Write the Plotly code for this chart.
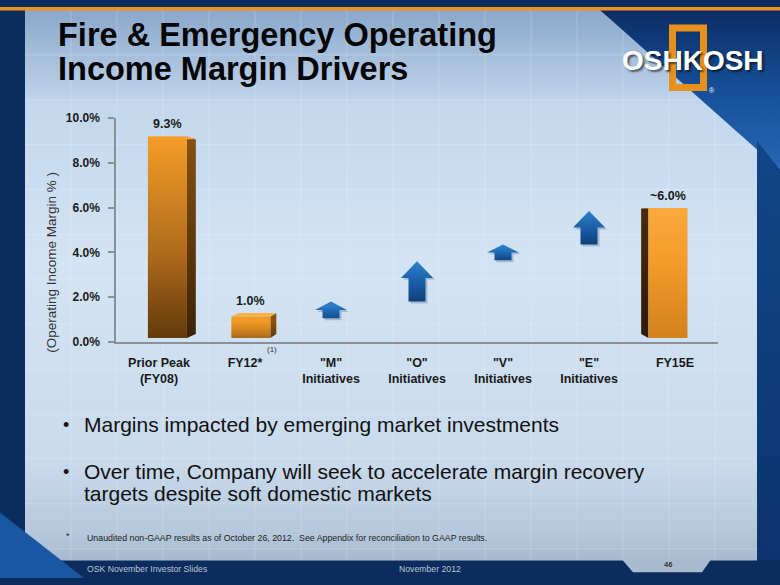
import plotly.graph_objects as go

W, H = 780, 585

# ---------------- data ----------------
categories = ['Prior Peak<br>(FY08)', 'FY12*', '"M"<br>Initiatives', '"O"<br>Initiatives',
              '"V"<br>Initiatives', '"E"<br>Initiatives', 'FY15E']
bar_positions = [0, 1, 6]
bar_values = [9.3, 1.0, 6.0]
bar_labels = ['9.3%', '1.0%', '~6.0%']
arrow_positions = [2, 3, 4, 5]
arrow_start = [1.05, 1.8, 3.65, 4.35]
arrow_end = [1.8, 3.6, 4.35, 5.85]
y_tickvals = [0, 2, 4, 6, 8, 10]
y_ticktext = ['0.0%', '2.0%', '4.0%', '6.0%', '8.0%', '10.0%']

title_lines = ['Fire & Emergency Operating', 'Income Margin Drivers']
bullets = ['Margins impacted by emerging market investments',
           'Over time, Company will seek to accelerate margin recovery',
           'targets despite soft domestic markets']
footnote = 'Unaudited non-GAAP results as of October 26, 2012.  See Appendix for reconciliation to GAAP results.'
footer_left = 'OSK November Investor Slides'
footer_mid = 'November 2012'
page_no = '46'

# ---------------- styles ----------------
FONT = 'Liberation Sans, Arial, Helvetica, sans-serif'
AX = '#8a9098'
PX_L, PX_R, PY_B, PY_T = 116, 718, 343, 114   # plot area in pixels
CAT_PX = (PX_R - PX_L) / 7.0
VAL_PX = (PY_B - PY_T) / 10.0

bar_front_scales = [
    [[0, '#5e360b'], [0.45, '#b06c1c'], [1, '#f49d27']],
    [[0, '#8a5214'], [0.5, '#c77d1f'], [1, '#f29a25']],
    [[0, '#cf7f1e'], [0.6, '#f29b29'], [1, '#f9a93b']],
]
bar_side_scales = [
    [[0, '#3a2106'], [1, '#87500f']],
    [[0, '#4f2e08'], [1, '#8a5212']],
    [[0, '#2e1a05'], [1, '#4a2b09']],
]
bar_top_color = '#f6b04c'
arrow_scale = [[0, '#0c3a72'], [0.55, '#195ca5'], [1, '#2b7cc6']]

VX, VY = 3.27, 5.5       # perspective centre (category index, value)
S_FRONT = 0.97
DEPTH = 0.035
HALF_W = 0.227
ARROW_HEAD_HW = 16.0 / CAT_PX
ARROW_SHAFT_HW = 8.5 / CAT_PX
ARROW_HEAD_MAX = 17.0 / VAL_PX


def px(x):
    return x / W


def py(y):
    return 1 - y / H


fig = go.Figure()


def bg_poly(pts, color=None, grad=None):
    xs = [p[0] for p in pts] + [pts[0][0]]
    ys = [p[1] for p in pts] + [pts[0][1]]
    kw = dict(x=xs, y=ys, mode='lines', fill='toself', line=dict(width=0),
              hoverinfo='skip', showlegend=False, xaxis='x', yaxis='y')
    if grad is not None:
        kw['fillgradient'] = grad
    else:
        kw['fillcolor'] = color
    fig.add_trace(go.Scatter(**kw))


# ---------------- slide background ----------------
bg_poly([(25, 3), (600, 3), (757, 137), (757, 567), (25, 567)],
        grad=dict(type='vertical', start=3, stop=567,
                  colorscale=[[0, '#8aa7ca'], [0.17, '#c3d7ed'], [0.45, '#d3e4f4'],
                              [0.8, '#c8daec'], [0.93, '#b5c7da'], [1, '#9fb2c8']]))
gx, gy = [], []
x = 25 + 46
while x < 757:
    gx += [x, x, None]
    gy += [3, 567, None]
    x += 46
y = 3 + 46
while y < 567:
    gx += [25, 757, None]
    gy += [y, y, None]
    y += 46
fig.add_trace(go.Scatter(x=gx, y=gy, mode='lines', line=dict(color='rgba(255,255,255,0.2)', width=1),
                         hoverinfo='skip', showlegend=False, xaxis='x', yaxis='y'))
bg_poly([(600, 3), (780, 3), (780, 167)],
        grad=dict(type='vertical', start=3, stop=167,
                  colorscale=[[0, '#0b2e63'], [0.5, '#17509a'], [1, '#2868b4']]))
bg_poly([(757, 137), (780, 167), (780, 567), (757, 567)],
        grad=dict(type='vertical', start=137, stop=567,
                  colorscale=[[0, '#114688'], [1, '#0c336b']]))
bg_poly([(0, 518), (84, 585), (0, 585)], color='#1a57a2')
bg_poly([(622, 566), (633, 579), (702, 579), (711, 566)], color='#a9bbcf')
bg_poly([(0, 0), (780, 0), (780, 3.5), (0, 3.5)], color='#e9931c')

# ---------------- chart: 3D bars ----------------


def back(p):
    return (p[0] + DEPTH * (VX - p[0]), p[1] + DEPTH * (VY - p[1]))


def chart_poly(pts, scale=None, color=None, start=None, stop=None):
    xs = [p[0] for p in pts] + [pts[0][0]]
    ys = [p[1] for p in pts] + [pts[0][1]]
    kw = dict(x=xs, y=ys, mode='lines', fill='toself', line=dict(width=0),
              hoverinfo='skip', showlegend=False, xaxis='x2', yaxis='y2')
    if scale is not None:
        kw['fillgradient'] = dict(type='vertical', start=start, stop=stop, colorscale=scale)
    else:
        kw['fillcolor'] = color
    fig.add_trace(go.Scatter(**kw))


label_anns = []
for k, (i, v) in enumerate(zip(bar_positions, bar_values)):
    cx = VX + (i - VX) * S_FRONT
    yb = VY + (0 - VY) * S_FRONT
    yt = VY + (v - VY) * S_FRONT
    xl, xr = cx - HALF_W, cx + HALF_W
    xe = xr if i < VX else xl
    side = [(xe, yb), (xe, yt), back((xe, yt)), back((xe, yb))]
    chart_poly(side, scale=bar_side_scales[k], start=yb, stop=yt)
    top = [(xl, yt), (xr, yt), back((xr, yt)), back((xl, yt))]
    chart_poly(top, color=bar_top_color)
    front = [(xl, yb), (xr, yb), (xr, yt), (xl, yt)]
    chart_poly(front, scale=bar_front_scales[k], start=yb, stop=yt)
    label_y = max(yt, back((xl, yt))[1])
    label_anns.append(dict(x=cx, y=label_y, xref='x2', yref='y2', text=bar_labels[k],
                           showarrow=False, xanchor='center', yanchor='bottom', yshift=3,
                           font=dict(size=12.5, color='#1a1a1a', family=FONT, weight='bold')))

# ---------------- chart: arrows ----------------
sdx, sdy = 2.0 / CAT_PX, -2.0 / VAL_PX
for i, a0, a1 in zip(arrow_positions, arrow_start, arrow_end):
    head = min(0.5 * (a1 - a0), ARROW_HEAD_MAX)
    hb = a1 - head
    pts = [(i - ARROW_SHAFT_HW, a0), (i + ARROW_SHAFT_HW, a0), (i + ARROW_SHAFT_HW, hb),
           (i + ARROW_HEAD_HW, hb), (i, a1), (i - ARROW_HEAD_HW, hb), (i - ARROW_SHAFT_HW, hb)]
    shadow = [(p[0] + sdx, p[1] + sdy) for p in pts]
    chart_poly(shadow, color='rgba(70,90,120,0.30)')
    chart_poly(pts, scale=arrow_scale, start=a0, stop=a1)

# ---------------- axes ----------------
fig.update_layout(
    width=W, height=H, margin=dict(l=0, r=0, t=0, b=0),
    paper_bgcolor='#0b2c5c', plot_bgcolor='rgba(0,0,0,0)', showlegend=False,
    font=dict(family=FONT, color='#1a1a1a'),
    xaxis=dict(domain=[0, 1], range=[0, W], visible=False, fixedrange=True),
    yaxis=dict(domain=[0, 1], range=[H, 0], visible=False, fixedrange=True),
    xaxis2=dict(domain=[PX_L / W, PX_R / W], anchor='y2', range=[-0.5, 6.5],
                tickmode='array', tickvals=list(range(7)), ticktext=categories,
                showline=True, linecolor=AX, linewidth=1.5, showgrid=False, zeroline=False,
                ticks='', ticklabelstandoff=8, fixedrange=True,
                tickfont=dict(size=12.5, color='#1a1a1a', family=FONT, weight='bold')),
    yaxis2=dict(domain=[py(PY_B), py(PY_T)], anchor='x2', range=[0, 10],
                tickmode='array', tickvals=y_tickvals, ticktext=y_ticktext,
                showline=True, linecolor=AX, linewidth=1.5, showgrid=False, zeroline=False,
                ticks='outside', ticklen=6, tickwidth=1.5, tickcolor=AX, ticklabelstandoff=6,
                fixedrange=True,
                tickfont=dict(size=12, color='#1a1a1a', family=FONT, weight='bold')),
)

anns = list(label_anns)
anns.append(dict(x=px(272), y=py(351), xref='paper', yref='paper', text='(1)', showarrow=False,
                 xanchor='center', yanchor='middle', font=dict(size=8, color='#333', family=FONT)))
anns.append(dict(x=px(52), y=py(262), xref='paper', yref='paper', text='(Operating Income Margin % )',
                 showarrow=False, textangle=-90, xanchor='center', yanchor='middle',
                 font=dict(size=13.5, color='#333333', family=FONT)))
for t, yy in zip(title_lines, [28.5, 64]):
    anns.append(dict(x=px(56), y=py(yy), xref='paper', yref='paper', text=t, showarrow=False,
                     xanchor='left', yanchor='middle',
                     font=dict(size=32.5, color='#050505', family=FONT, weight='bold')))
for t, yy, dot in zip(bullets, [428, 476, 498], [True, True, False]):
    anns.append(dict(x=px(82), y=py(yy), xref='paper', yref='paper', text=t, showarrow=False,
                     xanchor='left', yanchor='middle', font=dict(size=21, color='#111111', family=FONT)))
    if dot:
        anns.append(dict(x=px(61), y=py(yy), xref='paper', yref='paper', text='•', showarrow=False,
                         xanchor='left', yanchor='middle', font=dict(size=18, color='#111111', family=FONT)))
anns.append(dict(x=px(64), y=py(542), xref='paper', yref='paper', text='*', showarrow=False,
                 xanchor='left', yanchor='middle', font=dict(size=9, color='#222', family=FONT)))
anns.append(dict(x=px(85), y=py(544), xref='paper', yref='paper', text=footnote, showarrow=False,
                 xanchor='left', yanchor='middle', font=dict(size=8.8, color='#222', family=FONT)))
anns.append(dict(x=px(85), y=py(576), xref='paper', yref='paper', text=footer_left, showarrow=False,
                 xanchor='left', yanchor='middle', font=dict(size=8.7, color='#b9c5d8', family=FONT)))
anns.append(dict(x=px(397), y=py(576), xref='paper', yref='paper', text=footer_mid, showarrow=False,
                 xanchor='left', yanchor='middle', font=dict(size=8.7, color='#b9c5d8', family=FONT)))
anns.append(dict(x=px(668), y=py(571), xref='paper', yref='paper', text=page_no, showarrow=False,
                 xanchor='center', yanchor='middle', font=dict(size=7.5, color='#333', family=FONT,
                                                              weight='bold')))
anns.append(dict(x=px(693), y=py(55), xref='paper', yref='paper', text='OSHKOSH', showarrow=False,
                 xanchor='center', yanchor='middle',
                 font=dict(size=28, color='#ffffff', family=FONT,
                           weight='bold', shadow='2px 2px 2px rgba(0,0,0,0.55)')))
anns.append(dict(x=px(712), y=py(86), xref='paper', yref='paper', text='®', showarrow=False,
                 xanchor='center', yanchor='middle', font=dict(size=7, color='#ffffff', family=FONT)))
fig.update_layout(annotations=anns)

fig.add_shape(type='rect', xref='paper', yref='paper', x0=px(672.5), x1=px(703.5), y0=py(82.5), y1=py(21.5),
              line=dict(color='#e8901c', width=7), fillcolor='rgba(0,0,0,0)', layer='above')

fig.write_html('out.html', config={'displayModeBar': False},
               post_script="document.body.style.margin='0';document.body.style.padding='0';")
